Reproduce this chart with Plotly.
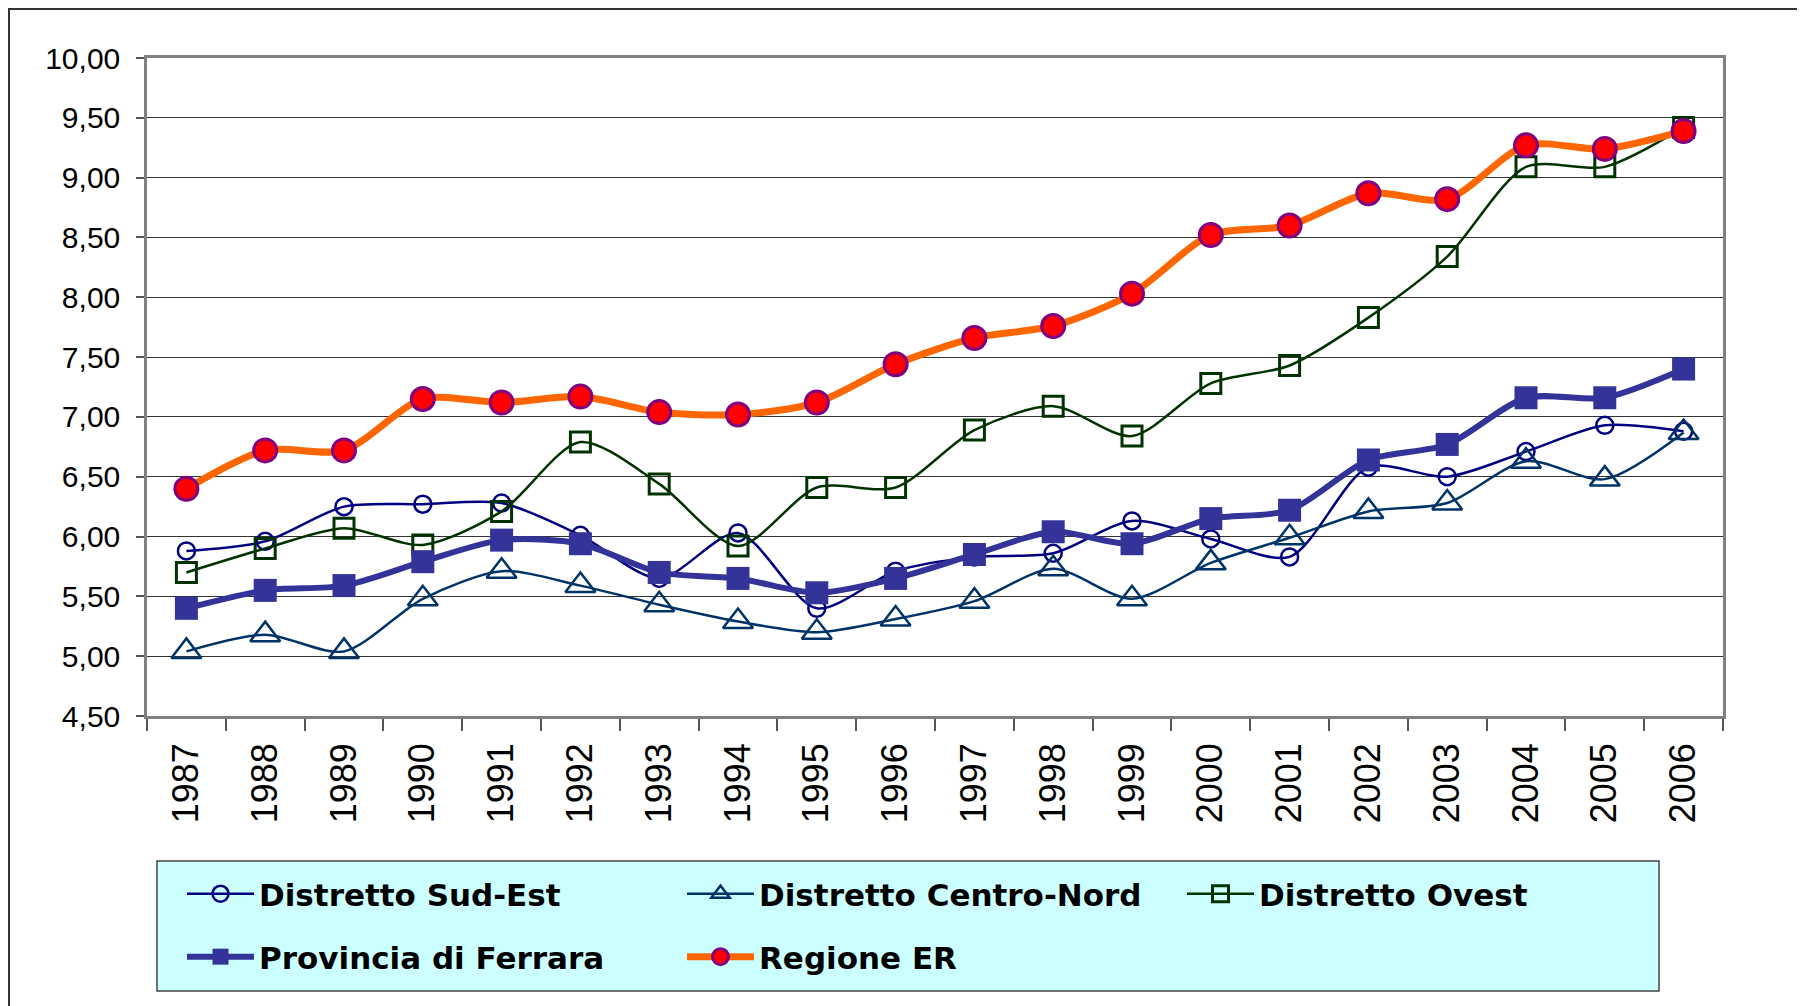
import plotly.graph_objects as go

years = ["1987", "1988", "1989", "1990", "1991", "1992", "1993", "1994", "1995", "1996",
         "1997", "1998", "1999", "2000", "2001", "2002", "2003", "2004", "2005", "2006"]

sud_est = [5.88, 5.96, 6.25, 6.27, 6.28, 6.01, 5.65, 6.03, 5.40, 5.71,
           5.83, 5.86, 6.13, 5.98, 5.83, 6.58, 6.50, 6.71, 6.93, 6.88]
centro_nord = [5.04, 5.18, 5.04, 5.48, 5.71, 5.59, 5.43, 5.29, 5.20, 5.31,
               5.46, 5.73, 5.48, 5.78, 5.99, 6.21, 6.28, 6.63, 6.48, 6.87]
ovest = [5.70, 5.90, 6.07, 5.93, 6.21, 6.79, 6.44, 5.92, 6.41, 6.41,
         6.89, 7.09, 6.84, 7.28, 7.43, 7.83, 8.34, 9.09, 9.09, 9.42]
ferrara = [5.40, 5.55, 5.59, 5.79, 5.97, 5.94, 5.70, 5.65, 5.53, 5.65,
           5.85, 6.04, 5.94, 6.15, 6.22, 6.64, 6.77, 7.16, 7.16, 7.40]
regione = [6.40, 6.72, 6.72, 7.15, 7.12, 7.17, 7.04, 7.02, 7.12, 7.44,
           7.66, 7.76, 8.03, 8.52, 8.60, 8.87, 8.82, 9.27, 9.24, 9.39]

names = ["Distretto Sud-Est", "Distretto Centro-Nord", "Distretto Ovest",
         "Provincia di Ferrara", "Regione ER"]

FONT = "Liberation Sans, Arial, sans-serif"
LFONT = "DejaVu Sans, Liberation Sans, sans-serif"

# page geometry (page has an 8px body margin)
W, H = 1797, 998
PL, PT, PR, PB = 147, 58, 1723, 716     # plot area in page pixels
PW, PH = PR - PL, PB - PT


def px_x(p):
    return (p - PL) / PW


def px_y(p):
    return (PB - p) / PH


fig = go.Figure()

fig.add_trace(go.Scatter(
    x=years, y=sud_est, name=names[0], mode="lines+markers", legend="legend",
    line=dict(color="#000080", width=2.5, shape="spline", smoothing=0.8),
    marker=dict(symbol="circle-open", size=17, color="#000080", line=dict(width=2.5, color="#000080")),
))
fig.add_trace(go.Scatter(
    x=years, y=centro_nord, name=names[1], mode="lines+markers", legend="legend",
    line=dict(color="#003366", width=2.5, shape="spline", smoothing=0.8),
    marker=dict(symbol="triangle-up-open", size=26, color="#003366", line=dict(width=2.5, color="#003366")),
))
fig.add_trace(go.Scatter(
    x=years, y=ovest, name=names[2], mode="lines+markers", legend="legend",
    line=dict(color="#003300", width=2.5, shape="spline", smoothing=0.8),
    marker=dict(symbol="square-open", size=20, color="#003300", line=dict(width=3, color="#003300")),
))
fig.add_trace(go.Scatter(
    x=years, y=ferrara, name=names[3], mode="lines+markers", legend="legend2",
    line=dict(color="#333399", width=6, shape="spline", smoothing=0.8),
    marker=dict(symbol="square", size=23, color="#333399", line=dict(width=0)),
))
fig.add_trace(go.Scatter(
    x=years, y=regione, name=names[4], mode="lines+markers", legend="legend2",
    line=dict(color="#FF6600", width=7, shape="spline", smoothing=0.8),
    marker=dict(symbol="circle", size=23, color="#FF0000", line=dict(width=3, color="#800080")),
))

legend_common = dict(
    orientation="h", xanchor="left", yanchor="middle",
    bgcolor="rgba(0,0,0,0)", borderwidth=0,
    font=dict(family=LFONT, size=31, color="black", weight="bold"),
    itemwidth=67, entrywidth=418, traceorder="normal",
)

fig.update_layout(
    width=W, height=H,
    margin=dict(l=PL - 8, r=W + 8 - PR, t=PT - 8, b=H + 8 - PB),
    paper_bgcolor="white", plot_bgcolor="white",
    separators=",.",
    font=dict(family=FONT, color="black"),
    showlegend=True,
    legend=dict(x=px_x(182), y=px_y(894), **legend_common),
    legend2=dict(x=px_x(182), y=px_y(957), **legend_common),
    shapes=[
        dict(type="rect", xref="paper", yref="paper",
             x0=px_x(9), x1=1.2, y0=-0.6, y1=px_y(9),
             line=dict(color="#333333", width=2), fillcolor="rgba(0,0,0,0)", layer="below"),
        dict(type="rect", xref="paper", yref="paper",
             x0=px_x(157), x1=px_x(1659), y0=px_y(991), y1=px_y(861),
             line=dict(color="#444444", width=1.5), fillcolor="#CCFFFF", layer="below"),
    ],
)

fig.update_xaxes(
    type="category", range=[-0.5, 19.5],
    showline=True, linecolor="#808080", linewidth=2.5, mirror=True,
    showgrid=False, ticks="outside", tickson="boundaries", ticklen=12,
    tickcolor="#555555", tickwidth=1.5,
    tickangle=-90, tickfont=dict(family=FONT, size=36, color="black"),
    ticklabelstandoff=10, automargin=False,
)
fig.update_yaxes(
    range=[4.5, 10], dtick=0.5, tick0=4.5, tickformat=".2f",
    showline=True, linecolor="#808080", linewidth=2.5, mirror=True,
    showgrid=True, gridcolor="#333333", gridwidth=1.2,
    ticks="outside", ticklen=8, tickcolor="#555555", tickwidth=1.5,
    tickfont=dict(family=FONT, size=30, color="black"),
    ticklabelstandoff=10, automargin=False, zeroline=False,
)

fig.write_html("out.html")
